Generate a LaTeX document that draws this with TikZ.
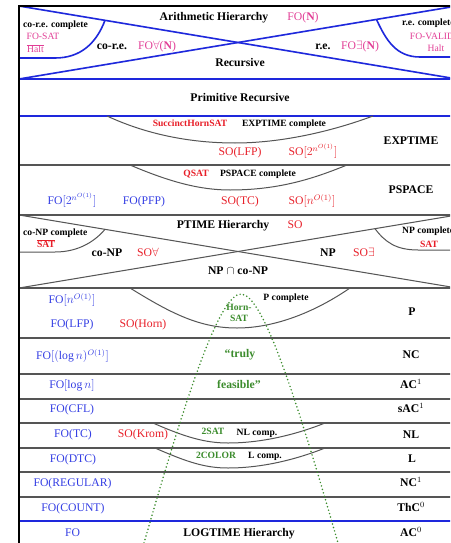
\documentclass[tikz,border=0pt]{standalone}
\usepackage{fontspec}
\setmainfont{Liberation Serif}
\definecolor{magt}{RGB}{226,62,150}
\definecolor{redt}{RGB}{232,30,40}
\definecolor{bluet}{RGB}{52,62,228}
\definecolor{bluel}{RGB}{30,40,220}
\definecolor{greent}{RGB}{60,140,45}
\definecolor{grayl}{RGB}{85,85,85}
\begin{document}
\begin{tikzpicture}[x=1pt,y=-1pt,
  big/.style={font=\fontsize{11.7}{13}\selectfont\bfseries, inner sep=0pt, text height=1.5ex, text depth=0.25ex},
  reg/.style={font=\fontsize{11.7}{13}\selectfont, inner sep=0pt, text height=1.5ex, text depth=0.25ex},
  sm/.style={font=\fontsize{9.6}{11}\selectfont\bfseries, inner sep=0pt, text height=1.5ex, text depth=0.25ex},
  smr/.style={font=\fontsize{9.6}{11}\selectfont, inner sep=0pt, text height=1.5ex, text depth=0.25ex},
  frame/.style={black, line width=2pt},
  bline/.style={bluel, line width=1.6pt},
  gline/.style={grayl, line width=1.3pt},
  curve/.style={grayl, line width=1pt},
  dots/.style={greent, line width=1.7pt, line cap=round, dash pattern=on 0pt off 3.6pt}]
\useasboundingbox (0,0) rectangle (450,543);
\clip (0,0) rectangle (450,543);
\fill[white] (0,0) rectangle (450,543);

% coordinates of band boundaries
\coordinate (L0) at (19,6);   \coordinate (R0) at (460,6);
\coordinate (L1) at (19,79);  \coordinate (R1) at (460,79);
\coordinate (L2) at (19,116); \coordinate (R2) at (460,116);
\coordinate (L21) at (19,521); \coordinate (R21) at (460,521);

% blue lines
\draw[bline] (L1) -- (R1);
\draw[bline] (L2) -- (R2);
\draw[bline] (L21) -- (R21);
\draw[bline] (19,6) -- (457,79);
\draw[bline] (19,79) -- (457,6);
\draw[bline] (19,58) -- (55,58) .. controls (80,58) and (96,44) .. (105,20.3);
\draw[bline] (376.5,19.5) .. controls (386,40) and (396,57) .. (420,57) -- (460,57);

% gray lines
\foreach \yy in {165,215,288,338,374,399,423,448,472,497}
  \draw[gline] (19,\yy) -- (460,\yy);
\draw[curve] (19,215) -- (457,288);
\draw[curve] (19,288) -- (457,215);
\draw[curve] (19,252) -- (55,252) .. controls (80,252) and (96,240) .. (105,229.3);
\draw[curve] (375,228.7) .. controls (385,242) and (396,250) .. (418,250) -- (460,250);
\draw[curve] (107,116) .. controls (150,136) and (195,143) .. (235,143) .. controls (280,143) and (330,132) .. (373,116);
\draw[curve] (130,165) .. controls (170,182) and (200,190) .. (230,190) .. controls (280,190) and (315,178) .. (347,165);
\draw[curve] (130,288) .. controls (172,314) and (200,328) .. (237,328) .. controls (275,328) and (315,312) .. (350,288);
\draw[curve] (153,423) .. controls (185,437) and (205,443) .. (228,443) .. controls (265,443) and (300,433) .. (325,423);
\draw[curve] (155,448) .. controls (187,462) and (205,468) .. (228,468) .. controls (265,468) and (300,458) .. (325,448);

% frame
\draw[frame] (19,560) -- (L0) -- (R0);

% green dotted curve
\draw[dots] (144,543) .. controls (185,400) and (219,294) .. (241,294) .. controls (263,294) and (297,400) .. (338,543);

% Arithmetic hierarchy
\node[sm, anchor=west] (corec) at (23,25) {co-r.e. complete};
\node[smr, magt] (fosat) at (43,37) {FO-SAT};
\node[smr, magt] (halt1) at (35.5,50) {$\overline{\mbox{Halt}}$};
\node[big] (core) at (112,47) {co-r.e.};
\node[reg, magt] (foall) at (157,47) {FO$\forall$(\textbf{N})};
\node[big] (arith) at (214,18) {Arithmetic Hierarchy};
\node[reg, magt] (fon) at (303,18) {FO(\textbf{N})};
\node[big] (re) at (323,47) {r.e.};
\node[reg, magt] (foex) at (360,47) {FO$\exists$(\textbf{N})};
\node[sm, anchor=west] (rec) at (402,23) {r.e. complete};
\node[smr, magt] (foval) at (432,37) {FO-VALID};
\node[smr, magt] (halt2) at (436,49) {Halt};
\node[big] (recursive) at (240,64) {Recursive};
\node[big] (primrec) at (240,99) {Primitive Recursive};

% EXPTIME
\node[sm, redt] (shs) at (190,124) {SuccinctHornSAT};
\node[sm] (expc) at (284,124) {EXPTIME complete};
\node[reg, redt] (solfp) at (240,153) {SO(LFP)};
\node[reg, redt] (soexp) at (313,153) {SO$[2^{n^{O(1)}}]$};
\node[big] (exptime) at (411,142) {EXPTIME};

% PSPACE
\node[sm, redt] (qsat) at (196,174) {QSAT};
\node[sm] (pspc) at (258,174) {PSPACE complete};
\node[reg, bluet] (foexp) at (72,202) {FO$[2^{n^{O(1)}}]$};
\node[reg, bluet] (fopfp) at (144,202) {FO(PFP)};
\node[reg, redt] (sotc) at (240,202) {SO(TC)};
\node[reg, redt] (sopoly) at (312,202) {SO$[n^{O(1)}]$};
\node[big] (pspace) at (411,191) {PSPACE};

% PTIME hierarchy
\node[sm, anchor=west] (conpc) at (23,233) {co-NP complete};
\node[sm, redt] (satbar) at (46,245) {$\overline{\mbox{\bfseries SAT}}$};
\node[big] (conp) at (107,254) {co-NP};
\node[reg, redt] (soall) at (148,254) {SO$\forall$};
\node[big] (ptimeh) at (223,226) {PTIME Hierarchy};
\node[reg, redt] (so) at (295,226) {SO};
\node[big] (np) at (328,254) {NP};
\node[reg, redt] (soex) at (364,254) {SO$\exists$};
\node[sm, anchor=west] (npc) at (402,231) {NP complete};
\node[sm, redt] (sat) at (429,245) {SAT};
\node[big] (npconp) at (238,272) {NP $\cap$ co-NP};

% P
\node[reg, bluet] (fopoly) at (72,301) {FO$[n^{O(1)}]$};
\node[reg, bluet] (folfp) at (72,325) {FO(LFP)};
\node[reg, redt] (sohorn) at (143,325) {SO(Horn)};
\node[sm] (pc) at (286,298) {P complete};
\node[sm, greent] (horn) at (239,308) {Horn-};
\node[sm, greent] (hsat) at (239,319) {SAT};
\node[big] (p) at (412,313) {P};

% NC, AC1, sAC1
\node[reg, bluet] (fopolylog) at (72.5,357) {FO$[(\log n)^{O(1)}]$};
\node[big, greent] (truly) at (240,355) {“truly};
\node[big] (nc) at (411,356) {NC};
\node[reg, bluet] (folog) at (72,386) {FO$[\log n]$};
\node[big, greent] (feasible) at (239,386) {feasible”};
\node[big] (ac1) at (411,386) {AC$^1$};
\node[reg, bluet] (focfl) at (72,410) {FO(CFL)};
\node[big] (sac1) at (411,410) {sAC$^1$};

% NL, L
\node[reg, bluet] (fotc) at (73,435) {FO(TC)};
\node[reg, redt] (sokrom) at (143,435) {SO(Krom)};
\node[sm, greent] (twosat) at (213,432) {2SAT};
\node[sm] (nlc) at (257,433) {NL comp.};
\node[big] (nl) at (411,436) {NL};
\node[reg, bluet] (fodtc) at (73,460) {FO(DTC)};
\node[sm, greent] (twocol) at (216,456) {2COLOR};
\node[sm] (lc) at (265,456) {L comp.};
\node[big] (l) at (412,460) {L};

% NC1, ThC0, AC0
\node[reg, bluet] (foreg) at (72.5,484) {FO(REGULAR)};
\node[big] (nc1) at (411,484) {NC$^1$};
\node[reg, bluet] (focount) at (73,509) {FO(COUNT)};
\node[big] (thc0) at (411,509) {ThC$^0$};
\node[reg, bluet] (fo) at (72.5,534) {FO};
\node[big] (logtime) at (239,534) {LOGTIME Hierarchy};
\node[big] (ac0) at (411,534) {AC$^0$};
\end{tikzpicture}
\end{document}
